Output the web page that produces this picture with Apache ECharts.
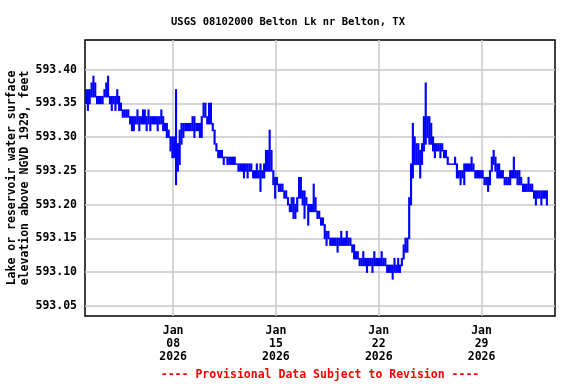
<!DOCTYPE html>
<html><head><meta charset="utf-8">
<script src="https://cdn.jsdelivr.net/npm/echarts@6/dist/echarts.min.js"></script>
<style>html,body{margin:0;padding:0;background:#fff}#c{width:576px;height:384px}</style>
</head><body><div id="c"></div>
<script>
const titleText = 'USGS 08102000 Belton Lk nr Belton, TX';
const yAxisTitle = 'Lake or reservoir water surface\nelevation above NGVD 1929, feet';
const footerText = '---- Provisional Data Subject to Revision ----';

// x is measured in days since 2026-01-01 00:00.
// 3-hour windows starting 2026-01-02 00:00 (day 1); lowest and highest reading in each window.
const seriesStartDay = 1;
const windowHours = 3;
const bandLow = [
  593.35, 593.34, 593.35, 593.36, 593.36, 593.36, 593.35, 593.35, // Jan 2
  593.35, 593.35, 593.36, 593.36, 593.36, 593.35, 593.34, 593.35, // Jan 3
  593.34, 593.35, 593.34, 593.34, 593.33, 593.33, 593.33, 593.33, // Jan 4
  593.32, 593.31, 593.31, 593.32, 593.32, 593.31, 593.32, 593.32, // Jan 5
  593.32, 593.31, 593.32, 593.31, 593.32, 593.32, 593.32, 593.31, // Jan 6
  593.32, 593.32, 593.31, 593.31, 593.30, 593.30, 593.28, 593.27, // Jan 7
  593.27, 593.23, 593.25, 593.26, 593.29, 593.30, 593.31, 593.31, // Jan 8
  593.31, 593.31, 593.31, 593.30, 593.31, 593.31, 593.30, 593.30, // Jan 9
  593.33, 593.33, 593.32, 593.32, 593.32, 593.31, 593.29, 593.28, // Jan 10
  593.27, 593.27, 593.27, 593.26, 593.27, 593.26, 593.26, 593.26, // Jan 11
  593.26, 593.26, 593.26, 593.25, 593.25, 593.25, 593.24, 593.25, // Jan 12
  593.24, 593.25, 593.25, 593.24, 593.24, 593.24, 593.24, 593.22, // Jan 13
  593.24, 593.24, 593.25, 593.25, 593.25, 593.25, 593.23, 593.21, // Jan 14
  593.23, 593.22, 593.22, 593.22, 593.21, 593.21, 593.20, 593.19, // Jan 15
  593.19, 593.18, 593.18, 593.19, 593.21, 593.21, 593.20, 593.18, // Jan 16
  593.20, 593.17, 593.19, 593.19, 593.19, 593.19, 593.18, 593.18, // Jan 17
  593.17, 593.17, 593.15, 593.14, 593.15, 593.14, 593.14, 593.14, // Jan 18
  593.14, 593.13, 593.14, 593.14, 593.14, 593.14, 593.14, 593.14, // Jan 19
  593.14, 593.13, 593.12, 593.12, 593.12, 593.11, 593.11, 593.11, // Jan 20
  593.11, 593.10, 593.11, 593.11, 593.10, 593.11, 593.11, 593.11, // Jan 21
  593.11, 593.11, 593.11, 593.11, 593.10, 593.10, 593.10, 593.09, // Jan 22
  593.10, 593.10, 593.10, 593.10, 593.11, 593.12, 593.13, 593.13, // Jan 23
  593.15, 593.20, 593.24, 593.26, 593.26, 593.26, 593.24, 593.26, // Jan 24
  593.28, 593.29, 593.30, 593.29, 593.29, 593.28, 593.27, 593.28, // Jan 25
  593.28, 593.27, 593.28, 593.27, 593.27, 593.26, 593.26, 593.26, // Jan 26
  593.26, 593.26, 593.24, 593.24, 593.23, 593.24, 593.23, 593.25, // Jan 27
  593.25, 593.25, 593.25, 593.25, 593.24, 593.24, 593.24, 593.24, // Jan 28
  593.24, 593.23, 593.23, 593.22, 593.23, 593.25, 593.26, 593.25, // Jan 29
  593.24, 593.24, 593.24, 593.24, 593.23, 593.23, 593.23, 593.23, // Jan 30
  593.24, 593.24, 593.24, 593.23, 593.23, 593.23, 593.22, 593.22, // Jan 31
  593.22, 593.22, 593.22, 593.22, 593.21, 593.20, 593.21, 593.21, // Feb 1
  593.20, 593.21, 593.21, 593.20                                  // Feb 2
];
const bandHigh = [
  593.37, 593.37, 593.37, 593.38, 593.39, 593.38, 593.36, 593.36, // Jan 2
  593.36, 593.36, 593.37, 593.38, 593.39, 593.36, 593.36, 593.36, // Jan 3
  593.36, 593.37, 593.36, 593.35, 593.34, 593.34, 593.34, 593.34, // Jan 4
  593.33, 593.33, 593.33, 593.33, 593.34, 593.33, 593.33, 593.34, // Jan 5
  593.34, 593.33, 593.34, 593.33, 593.33, 593.33, 593.33, 593.33, // Jan 6
  593.33, 593.34, 593.33, 593.32, 593.32, 593.31, 593.30, 593.30, // Jan 7
  593.30, 593.37, 593.29, 593.31, 593.32, 593.32, 593.32, 593.32, // Jan 8
  593.32, 593.32, 593.33, 593.33, 593.32, 593.32, 593.32, 593.33, // Jan 9
  593.35, 593.35, 593.33, 593.35, 593.35, 593.32, 593.30, 593.29, // Jan 10
  593.28, 593.28, 593.28, 593.27, 593.27, 593.27, 593.27, 593.27, // Jan 11
  593.27, 593.27, 593.26, 593.26, 593.26, 593.26, 593.26, 593.26, // Jan 12
  593.26, 593.26, 593.26, 593.25, 593.25, 593.26, 593.25, 593.26, // Jan 13
  593.25, 593.26, 593.28, 593.28, 593.31, 593.28, 593.25, 593.24, // Jan 14
  593.24, 593.23, 593.23, 593.23, 593.22, 593.22, 593.21, 593.20, // Jan 15
  593.21, 593.21, 593.20, 593.21, 593.24, 593.24, 593.22, 593.22, // Jan 16
  593.21, 593.20, 593.20, 593.20, 593.23, 593.21, 593.19, 593.19, // Jan 17
  593.18, 593.18, 593.17, 593.16, 593.16, 593.15, 593.15, 593.15, // Jan 18
  593.15, 593.15, 593.15, 593.16, 593.15, 593.15, 593.16, 593.15, // Jan 19
  593.15, 593.14, 593.14, 593.13, 593.13, 593.12, 593.12, 593.13, // Jan 20
  593.12, 593.12, 593.12, 593.12, 593.12, 593.13, 593.12, 593.12, // Jan 21
  593.12, 593.13, 593.12, 593.12, 593.11, 593.11, 593.11, 593.11, // Jan 22
  593.12, 593.11, 593.12, 593.11, 593.12, 593.14, 593.15, 593.15, // Jan 23
  593.21, 593.26, 593.32, 593.30, 593.29, 593.29, 593.28, 593.29, // Jan 24
  593.33, 593.38, 593.33, 593.33, 593.32, 593.30, 593.29, 593.29, // Jan 25
  593.29, 593.29, 593.29, 593.28, 593.28, 593.27, 593.26, 593.26, // Jan 26
  593.26, 593.27, 593.26, 593.25, 593.25, 593.25, 593.26, 593.26, // Jan 27
  593.26, 593.26, 593.27, 593.26, 593.25, 593.25, 593.25, 593.25, // Jan 28
  593.25, 593.24, 593.24, 593.24, 593.25, 593.27, 593.28, 593.27, // Jan 29
  593.26, 593.26, 593.25, 593.25, 593.24, 593.24, 593.24, 593.25, // Jan 30
  593.25, 593.27, 593.25, 593.25, 593.25, 593.24, 593.23, 593.23, // Jan 31
  593.23, 593.24, 593.23, 593.23, 593.22, 593.22, 593.22, 593.22, // Feb 1
  593.22, 593.22, 593.22, 593.22                                  // Feb 2
];

const xTickDays = [7, 14, 21, 28]; // Jan 8, 15, 22, 29
const xTickLabels = ['Jan\n08\n2026', 'Jan\n15\n2026', 'Jan\n22\n2026', 'Jan\n29\n2026'];
const yTicks = [593.05, 593.10, 593.15, 593.20, 593.25, 593.30, 593.35, 593.40];

const xMin = 1;   // Jan 2
const xMax = 33;  // Feb 3
const yMin = 593.035;
const yMax = 593.444;

const FONT = '"DejaVu Sans Mono", "Liberation Mono", monospace';
const stepDays = windowHours / 24;
// Each window: [start, low, high, drawLow, drawHigh]; the drawn span also joins the previous window.
const data = bandLow.map((lo, i) => {
  const hi = bandHigh[i];
  let dLo = lo, dHi = hi;
  if (i > 0) {
    dLo = Math.min(lo, bandHigh[i - 1]);
    dHi = Math.max(hi, bandLow[i - 1]);
  }
  return [seriesStartDay + i * stepDays, lo, hi, dLo, dHi];
});

const chart = echarts.init(document.getElementById('c'), null, { renderer: 'canvas' });
chart.setOption({
  animation: false,
  backgroundColor: '#fff',
  title: {
    text: titleText, left: 'center', top: 12,
    textStyle: { fontFamily: FONT, fontWeight: 'bold', fontSize: 10.5, color: '#000' }
  },
  grid: { left: 85, right: 21, top: 40, bottom: 68, outerBoundsMode: 'none', containLabel: false,
          show: true, borderColor: '#000', borderWidth: 1.5, backgroundColor: 'transparent' },
  xAxis: {
    type: 'value', min: xMin, max: xMax,
    axisLine: { show: false },
    axisTick: { show: false, customValues: xTickDays },
    axisLabel: {
      customValues: xTickDays,
      formatter: (v) => { const k = xTickDays.indexOf(v); return k >= 0 ? xTickLabels[k] : ''; },
      fontFamily: FONT, fontWeight: 'bold', fontSize: 11.5, color: '#000', lineHeight: 12.7, margin: 9
    },
    splitLine: { show: true, lineStyle: { color: '#c8c8c8', width: 1.5 } }
  },
  yAxis: {
    type: 'value', min: yMin, max: yMax,
    name: yAxisTitle, nameLocation: 'middle', nameRotate: 90, nameGap: 53, nameMoveOverlap: false,
    nameTextStyle: { fontFamily: FONT, fontWeight: 'bold', fontSize: 11.5, color: '#000', lineHeight: 13 },
    axisLine: { show: false },
    axisTick: { show: false, customValues: yTicks },
    axisLabel: {
      customValues: yTicks,
      formatter: (v) => v.toFixed(2),
      fontFamily: FONT, fontWeight: 'bold', fontSize: 11.5, color: '#000', margin: 8
    },
    splitLine: { show: true, lineStyle: { color: '#c8c8c8', width: 1.5 } }
  },
  series: [{
    type: 'custom',
    clip: true,
    encode: { x: 0, y: [3, 4] },
    data: data,
    renderItem: (params, api) => {
      const t = api.value(0);
      const top = api.coord([t, api.value(4)]);
      const bot = api.coord([t + stepDays, api.value(3)]);
      return {
        type: 'rect',
        shape: { x: top[0], y: top[1] - 0.75, width: bot[0] - top[0] + 0.3, height: bot[1] - top[1] + 1.5 },
        style: { fill: '#0000ff' }
      };
    }
  }],
  graphic: [{
    type: 'text', x: 320, y: 375,
    style: { text: footerText, align: 'center', verticalAlign: 'middle', fill: '#ff0000', font: 'bold 11.5px "DejaVu Sans Mono", monospace' }
  }]
});
</script>
</body></html>
